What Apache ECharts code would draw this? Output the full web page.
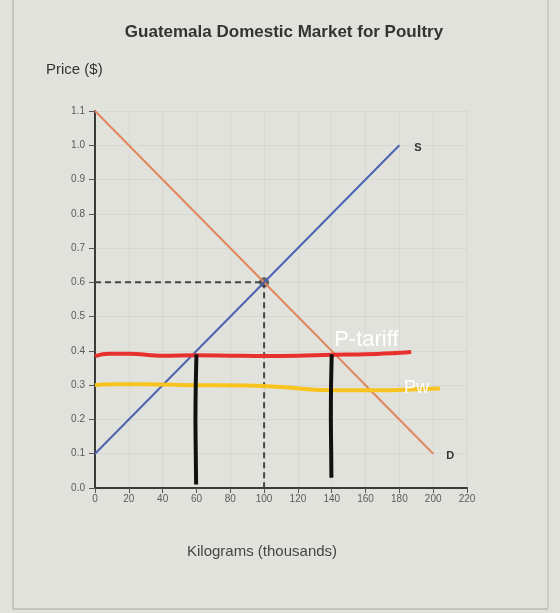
<!DOCTYPE html>
<html>
<head>
<meta charset="utf-8">
<script src="https://cdn.jsdelivr.net/npm/echarts@6/dist/echarts.min.js"></script>
<style>
  html, body { margin: 0; padding: 0; background: #e2e2dc; }
  #chart { width: 560px; height: 613px; }
</style>
</head>
<body>
<div id="chart"></div>
<script>
// axis ranges
const xMin = 0, xMax = 220, xStep = 20;
const yMin = 0, yMax = 1.1, yStep = 0.1;

// demand and supply curves
const demandQty = [0, 200];
const demandPrice = [1.1, 0.1];
const supplyQty = [0, 180];
const supplyPrice = [0.1, 1.0];

// equilibrium
const eqQty = 100;
const eqPrice = 0.6;

// hand drawn price lines
const tariffQty = [0, 8, 20, 40, 60, 80, 100, 120, 140, 160, 175, 187];
const tariffPrice = [0.385, 0.392, 0.392, 0.386, 0.387, 0.386, 0.385, 0.386, 0.389, 0.39, 0.393, 0.397];
const worldQty = [0, 10, 30, 60, 90, 110, 130, 150, 170, 190, 204];
const worldPrice = [0.3, 0.303, 0.303, 0.3, 0.299, 0.295, 0.287, 0.285, 0.285, 0.288, 0.29];

// hand drawn vertical marks
const leftMarkQty = [60, 59.6, 59.4, 59.6, 59.8];
const leftMarkPrice = [0.39, 0.3, 0.2, 0.1, 0.01];
const rightMarkQty = [140, 139.6, 139.5, 139.7, 139.8];
const rightMarkPrice = [0.39, 0.3, 0.2, 0.1, 0.03];

const zip = (xs, ys) => xs.map((x, i) => [x, ys[i]]);

const chart = echarts.init(document.getElementById('chart'));

// put a text label on the last point of a line
const withEndLabel = (points, label) => points.map((p, i) => i === points.length - 1
  ? { value: p, symbol: 'circle', symbolSize: 0, label: { show: true, ...label } }
  : p);

const option = {
  backgroundColor: '#e2e2dc',
  animation: false,
  title: {
    text: 'Guatemala Domestic Market for Poultry',
    left: 279,
    top: 19,
    textAlign: 'center',
    textStyle: { fontFamily: 'Liberation Sans', fontSize: 17, fontWeight: 'bold', color: '#333' }
  },
  graphic: [
    { type: 'text', left: 46, top: 62, style: { text: 'Price ($)', font: '15px "Liberation Sans"', fill: '#333' } },
    { type: 'text', left: 187, top: 544, style: { text: 'Kilograms (thousands)', font: '15px "Liberation Sans"', fill: '#444' } },
    { type: 'line', shape: { x1: 13, y1: 0, x2: 13, y2: 609 }, style: { stroke: '#b8b8b2', lineWidth: 1.5 } },
    { type: 'line', shape: { x1: 13, y1: 609, x2: 548, y2: 609 }, style: { stroke: '#b8b8b2', lineWidth: 1.5 } },
    { type: 'line', shape: { x1: 548, y1: 0, x2: 548, y2: 609 }, style: { stroke: '#c4c4be', lineWidth: 1.5 } }
  ],
  grid: { left: 95, right: 93, top: 111, bottom: 125 },
  xAxis: {
    type: 'value', min: xMin, max: xMax, interval: xStep,
    axisLine: { lineStyle: { color: '#3a3a3a', width: 2 } },
    axisTick: { show: true, length: 5, lineStyle: { color: '#555' } },
    axisLabel: { fontFamily: 'Liberation Sans', fontSize: 10, color: '#5a5a5a', margin: 6 },
    splitLine: { show: true, lineStyle: { color: 'rgba(0,0,0,0.045)' } }
  },
  yAxis: {
    type: 'value', min: yMin, max: yMax, interval: yStep,
    axisLine: { show: true, lineStyle: { color: '#3a3a3a', width: 2 } },
    axisTick: { show: true, length: 6, lineStyle: { color: '#555' } },
    axisLabel: { fontFamily: 'Liberation Sans', fontSize: 10, color: '#5a5a5a', margin: 10,
      formatter: v => v.toFixed(1) },
    splitLine: { show: true, lineStyle: { color: 'rgba(0,0,0,0.045)' } }
  },
  series: [
    {
      type: 'line', name: 'eq-h', symbol: 'none', silent: true,
      data: [[0, eqPrice], [eqQty, eqPrice]],
      lineStyle: { color: '#444', width: 2, type: [6, 4] }
    },
    {
      type: 'line', name: 'eq-v', symbol: 'none', silent: true,
      data: [[eqQty, eqPrice], [eqQty, 0]],
      lineStyle: { color: '#444', width: 2, type: [6, 4] }
    },
    {
      type: 'line', name: 'Demand', symbol: 'none',
      data: withEndLabel(zip(demandQty, demandPrice),
        { formatter: 'D', position: 'right', offset: [8, 2], fontFamily: 'Liberation Sans', fontSize: 11, fontWeight: 'bold', color: '#333' }),
      lineStyle: { color: '#e0875e', width: 2 }
    },
    {
      type: 'line', name: 'Supply', symbol: 'none',
      data: withEndLabel(zip(supplyQty, supplyPrice),
        { formatter: 'S', position: 'right', offset: [10, 3], fontFamily: 'Liberation Sans', fontSize: 11, fontWeight: 'bold', color: '#333' }),
      lineStyle: { color: '#4a63b3', width: 2 }
    },
    {
      type: 'line', name: 'Pw', symbol: 'none', smooth: 0.4,
      data: withEndLabel(zip(worldQty, worldPrice),
        { formatter: 'Pw', position: [-36, -10], fontFamily: 'Liberation Sans', fontSize: 18, color: '#fff' }),
      lineStyle: { color: '#f8c31e', width: 4 }
    },
    {
      type: 'line', name: 'P-tariff', symbol: 'none', smooth: 0.4,
      data: withEndLabel(zip(tariffQty, tariffPrice),
        { formatter: 'P-tariff', position: [-77, -23], fontFamily: 'Liberation Sans', fontSize: 22, color: '#fff' }),
      lineStyle: { color: '#e8312e', width: 4 }
    },
    {
      type: 'line', name: 'mark-l', symbol: 'none', smooth: 0.3,
      data: zip(leftMarkQty, leftMarkPrice),
      lineStyle: { color: '#111', width: 4 }
    },
    {
      type: 'line', name: 'mark-r', symbol: 'none', smooth: 0.3,
      data: zip(rightMarkQty, rightMarkPrice),
      lineStyle: { color: '#111', width: 4 }
    },
    {
      type: 'scatter', name: 'Equilibrium',
      data: [[eqQty, eqPrice]],
      symbolSize: 10,
      itemStyle: { color: '#444' }
    }
  ]
};

chart.setOption(option);
</script>
</body>
</html>
